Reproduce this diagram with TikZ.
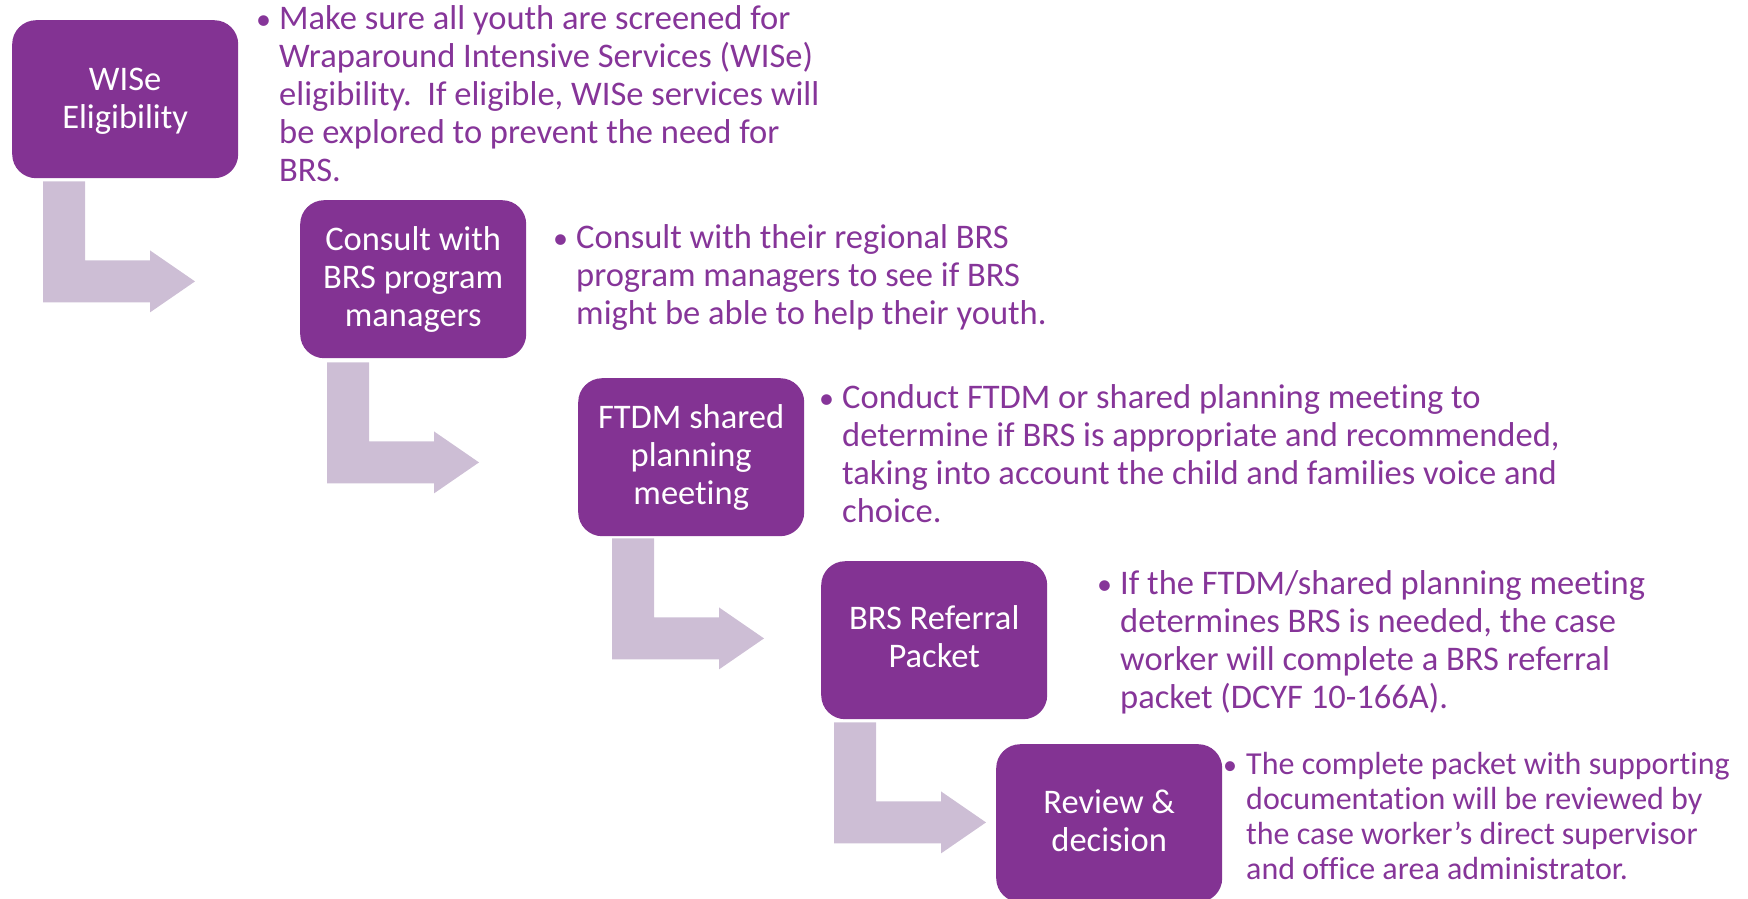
\documentclass[tikz,border=0pt]{standalone}
\usepackage{fontspec}
\setmainfont{Carlito}[Ligatures=NoCommon]
\usetikzlibrary{calc}
\definecolor{boxpurple}{HTML}{833393}
\definecolor{arrowlilac}{HTML}{CDBED5}
\definecolor{textpurple}{HTML}{863599}
\newcommand{\bxl}[1]{\parbox[t]{222pt}{\centering #1}}
\newcommand{\bul}[2]{\parbox[t]{#1}{\raggedright #2}}
\tikzset{
  stepbox/.style={rounded corners=24pt, fill=boxpurple, minimum width=226pt, minimum height=158pt, inner sep=0pt, anchor=north west},
  boxtext/.style={anchor=base, inner sep=0pt, text=white, font=\fontsize{34.5}{38}\selectfont},
  desc/.style={anchor=base west, inner sep=0pt, text=textpurple, font=\fontsize{34.5}{38}\selectfont},
  descsmall/.style={desc, font=\fontsize{32}{35}\selectfont},
  bulletmark/.style={anchor=base west, inner sep=0pt, text=textpurple, font=\fontsize{30}{38}\selectfont},
  bentarrow/.pic={\fill[arrowlilac] (0,0) -- (42,0) -- (42,79) -- (107,79) -- (107,69) -- (152,100) -- (107,131) -- (107,121) -- (0,121) -- cycle;}
}
\begin{document}
\begin{tikzpicture}[x=1pt,y=-1pt]
\path[use as bounding box] (0,0) rectangle (1748,899);
% boxes
\node[stepbox] (b1) at (12,20) {};
\node[stepbox] (b2) at (300,200) {};
\node[stepbox] (b3) at (578,378) {};
\node[stepbox] (b4) at (821,561) {};
\node[stepbox] (b5) at (996,744) {};
% box texts
\node[boxtext] (t1) at ($(b1.center)+(0,-9)$) {\bxl{WISe\\Eligibility}};
\node[boxtext] (t2) at ($(b2.center)+(0,-29)$) {\bxl{Consult with\\BRS program\\managers}};
\node[boxtext] (t3) at ($(b3.center)+(0,-29)$) {\bxl{FTDM shared\\planning\\meeting}};
\node[boxtext] (t4) at ($(b4.center)+(0,-11)$) {\bxl{BRS Referral\\Packet}};
\node[boxtext] (t5) at ($(b5.center)+(0,-10)$) {\bxl{Review \&\\decision}};
% bent arrows
\pic at ($(b1.south west)+(31,3)$) {bentarrow};
\pic at ($(b2.south west)+(27,4)$) {bentarrow};
\pic at ($(b3.south west)+(34,2)$) {bentarrow};
\pic at ($(b4.south west)+(13,3)$) {bentarrow};
% descriptions
\node[bulletmark] (u1) at (256,30) {•};
\node[desc] (d1) at (279,30) {\bul{700pt}{Make sure all youth are screened for\\Wraparound Intensive Services (WISe)\\eligibility.\ \ If eligible, WISe services will\\be explored to prevent the need for\\BRS.}};
\node[bulletmark] (u2) at (553,248) {•};
\node[desc] (d2) at (576,248) {\bul{700pt}{Consult with their regional BRS\\program managers to see if BRS\\might be able to help their youth.}};
\node[bulletmark] (u3) at (819,408) {•};
\node[desc] (d3) at (842,408) {\bul{900pt}{Conduct FTDM or shared planning meeting to\\determine if BRS is appropriate and recommended,\\taking into account the child and families voice and\\choice.}};
\node[bulletmark] (u4) at (1097,594) {•};
\node[desc] (d4) at (1120,594) {\bul{700pt}{If the FTDM/shared planning meeting\\determines BRS is needed, the case\\worker will complete a BRS referral\\packet (DCYF 10-166A).}};
\node[bulletmark, font=\fontsize{28}{35}\selectfont] (u5) at (1223,774) {•};
\node[descsmall] (d5) at (1246,774) {\bul{600pt}{The complete packet with supporting\\documentation will be reviewed by\\the case worker’s direct supervisor\\and office area administrator.}};
\end{tikzpicture}
\end{document}
